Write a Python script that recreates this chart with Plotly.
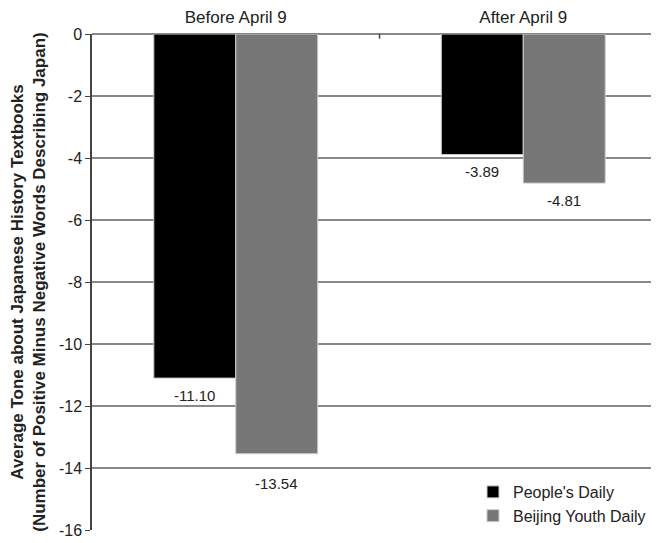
import plotly.graph_objects as go

categories = ["Before April 9", "After April 9"]
peoples_daily = [-11.10, -3.89]
beijing_youth = [-13.54, -4.81]
series_names = ["People's Daily", "Beijing Youth Daily"]
y_ticks = [0, -2, -4, -6, -8, -10, -12, -14, -16]

fig = go.Figure()
fig.add_trace(go.Bar(x=categories, y=peoples_daily, name=series_names[0],
                     marker=dict(color="#000000", line=dict(color="#cccccc", width=1))))
fig.add_trace(go.Bar(x=categories, y=beijing_youth, name=series_names[1],
                     marker=dict(color="#777777", line=dict(color="#cccccc", width=1))))

# value labels below the bars
label_shift = {(-13.54): -30}
for i, cat in enumerate(categories):
    for j, (vals, off) in enumerate([(peoples_daily, -0.143), (beijing_youth, 0.143)]):
        v = vals[i]
        fig.add_annotation(x=i + off, y=v, text=f"{v:.2f}", showarrow=False,
                           xref="x", yref="y", yshift=label_shift.get(v, -17),
                           font=dict(family="Liberation Sans, Arial", size=15, color="#222"))

fig.update_layout(
    width=659, height=543,
    margin=dict(l=84, r=0, t=26, b=21),
    paper_bgcolor="white", plot_bgcolor="white",
    barmode="group", bargap=0.43, bargroupgap=0,
    font=dict(family="Liberation Sans, Arial", size=15, color="#222"),
    showlegend=True,
    legend=dict(x=0.6626, xanchor="left", y=-0.006, yanchor="bottom",
                bgcolor="rgba(255,255,255,0)", font=dict(size=16, color="#222"),
                tracegroupgap=0, itemwidth=30),
    xaxis=dict(side="top", range=[-0.5, 1.5], showgrid=False, showline=False,
               ticks="", tickfont=dict(size=17, color="#222"), type="category",
               automargin=False, ticklabelstandoff=7),
    yaxis=dict(range=[-16, 0], tickvals=y_ticks, ticktext=[str(t) for t in y_ticks],
               showgrid=True, gridcolor="#888888", gridwidth=1.5, zeroline=True,
               zerolinecolor="#888888", zerolinewidth=1.5,
               showline=True, linecolor="#444", linewidth=1.5,
               ticks="outside", ticklen=5, tickcolor="#444",
               tickfont=dict(size=16, color="#222"), automargin=False,
               title=dict(text="<b>Average Tone about Japanese History Textbooks<br>(Number of Positive Minus Negative Words Describing Japan)</b>",
                          font=dict(size=17, color="#222"), standoff=10)),
)
# small category separator tick at top
fig.add_shape(type="line", xref="x", yref="y", x0=0.5, x1=0.5, y0=0, y1=-0.15,
              line=dict(color="#444", width=1.5))
fig.write_html("out.html")
